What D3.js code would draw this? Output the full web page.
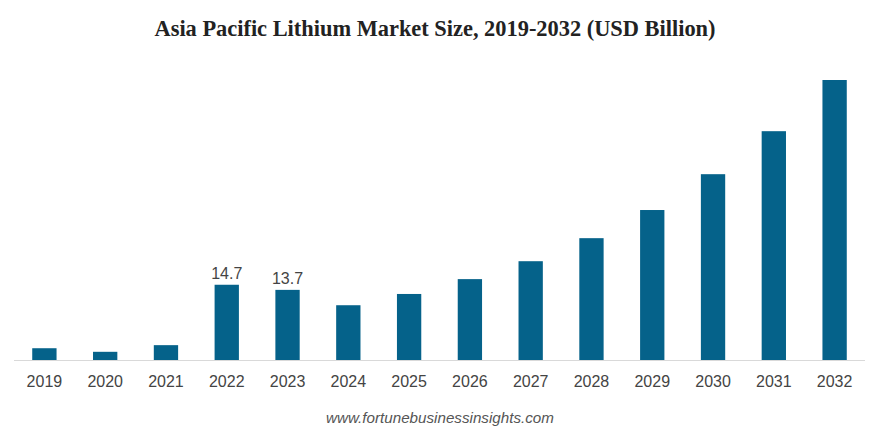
<!DOCTYPE html>
<html><head><meta charset="utf-8">
<script src="https://cdn.jsdelivr.net/npm/d3@7"></script>
<style>body{margin:0;background:#fff}</style></head>
<body><svg id="c" width="869" height="432"></svg>
<script>
const years=["2019","2020","2021","2022","2023","2024","2025","2026","2027","2028","2029","2030","2031","2032"];
const values=[2.3,1.6,2.9,14.7,13.7,10.7,12.9,15.8,19.3,23.8,29.3,36.3,44.7,54.7];
const labelled=["2022","2023"];
const svg=d3.select("#c");
const x=d3.scaleBand().domain(years).range([14,865]).paddingInner(0.6).paddingOuter(0.3);
const y=d3.scaleLinear().domain([0,54.7]).range([360,80]);
svg.append("text").attr("x",435).attr("y",36).attr("text-anchor","middle")
 .attr("font-family","Liberation Serif").attr("font-weight","bold").attr("font-size",22.4).attr("fill","#222")
 .text("Asia Pacific Lithium Market Size, 2019-2032 (USD Billion)");
svg.selectAll("rect").data(values).join("rect")
 .attr("x",(d,i)=>x(years[i])).attr("width",x.bandwidth())
 .attr("y",d=>y(d)).attr("height",d=>360-y(d)).attr("fill","#05628a");
svg.append("line").attr("x1",14).attr("x2",865).attr("y1",360.5).attr("y2",360.5).attr("stroke","#d9d9d9");
const ax=svg.append("g").attr("transform","translate(0,360)").call(d3.axisBottom(x).tickSize(0).tickPadding(16));
ax.select(".domain").remove();
ax.selectAll("text").attr("font-family","Liberation Sans").attr("font-size",16).attr("fill","#444");
svg.selectAll("text.v").data(years.filter(d=>labelled.includes(d))).join("text").attr("class","v")
 .attr("x",d=>x(d)+x.bandwidth()/2).attr("y",d=>y(values[years.indexOf(d)])-6).attr("text-anchor","middle")
 .attr("font-family","Liberation Sans").attr("font-size",16).attr("fill","#444").text(d=>values[years.indexOf(d)]);
svg.append("text").attr("x",440).attr("y",423).attr("text-anchor","middle")
 .attr("font-family","Liberation Sans").attr("font-style","italic").attr("font-size",15.2).attr("fill","#555")
 .text("www.fortunebusinessinsights.com");
</script></body></html>
